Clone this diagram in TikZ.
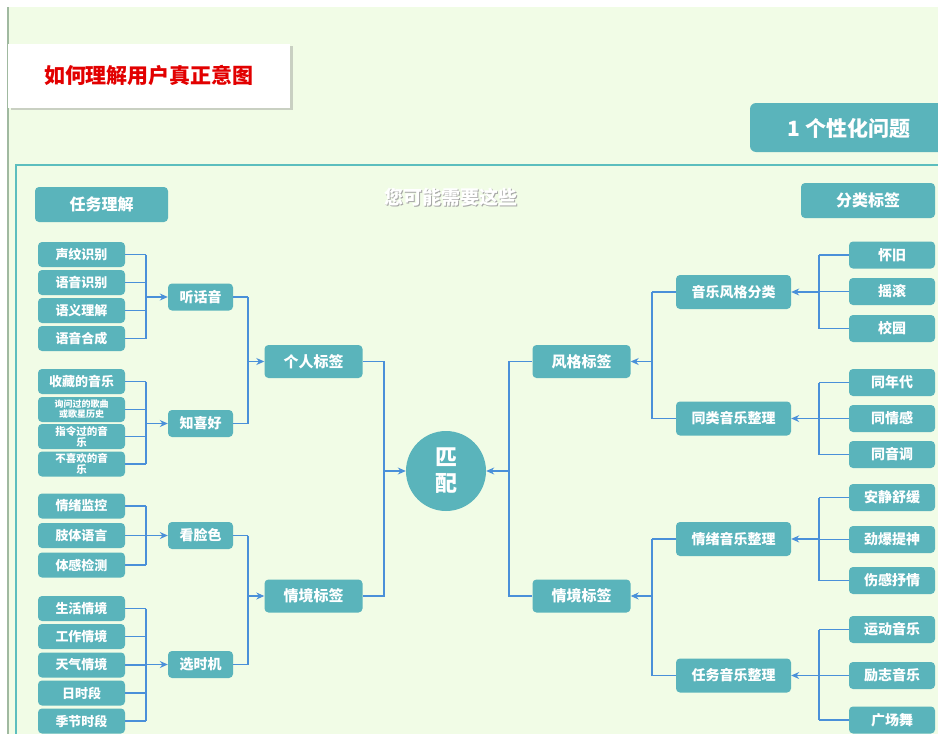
\documentclass[tikz,border=0pt]{standalone}
\usepackage{fontspec}
\setmainfont{Noto Sans CJK SC}
\usetikzlibrary{arrows.meta,shadows}
\definecolor{tealbox}{RGB}{90,180,187}
\definecolor{bggreen}{RGB}{241,252,230}
\definecolor{lineblue}{RGB}{74,144,217}
\definecolor{frameteal}{RGB}{92,190,190}
\definecolor{titlered}{RGB}{226,0,0}
\tikzset{
  box/.style={fill=tealbox, rounded corners=4pt, text=white, inner sep=0pt, align=center},
  leafL/.style={box, minimum width=87pt, minimum height=25pt, font=\bfseries\fontsize{13}{15}\selectfont},
  leafS/.style={box, minimum width=87pt, minimum height=25pt, font=\bfseries\fontsize{10.5}{11}\selectfont},
  leafT/.style={box, minimum width=87pt, minimum height=25pt, font=\bfseries\fontsize{9}{10}\selectfont},
  midL/.style={box, minimum width=65pt, minimum height=27pt, font=\bfseries\fontsize{14}{16}\selectfont},
  topL/.style={box, minimum width=98pt, minimum height=33pt, font=\bfseries\fontsize{15}{17}\selectfont},
  midR/.style={box, minimum width=115pt, minimum height=34pt, font=\bfseries\fontsize{14}{16}\selectfont},
  leafR/.style={box, minimum width=86pt, minimum height=27pt, font=\bfseries\fontsize{14}{16}\selectfont},
  headbox/.style={box, minimum width=134pt, minimum height=35pt, font=\bfseries\fontsize{16}{18}\selectfont},
  conn/.style={draw=lineblue, line width=1.1pt},
  arr/.style={conn, -{Stealth[length=8pt,width=7pt]}},
}
\begin{document}
\begin{tikzpicture}[x=1pt,y=-1pt]
\useasboundingbox (0,0) rectangle (938,734);
\clip (0,0) rectangle (938,734);
% background
\fill[white] (0,0) rectangle (938,734);
\fill[bggreen] (8,7) rectangle (938,734);
\draw[draw={rgb,255:red,160;green,185;blue,160}, line width=1.5pt] (8,7) -- (8,734);
% frame
\draw[frameteal, line width=1.3pt] (16,734) -- (16,165) -- (940,165);
% title
\node[fill=white, minimum width=282pt, minimum height=64pt, inner sep=0pt,
      drop shadow={shadow xshift=2.5pt, shadow yshift=-2.5pt, opacity=0.35},
      font=\bfseries\fontsize{21}{24}\selectfont, text=titlered] (title) at (149,75.5) {如何理解用户真正意图};
% top-right box
\fill[tealbox, rounded corners=6pt] (750,103) rectangle (960,152);
\node[text=white, font=\bfseries\fontsize{21}{23}\selectfont, inner sep=0pt] (q1) at (849,128) {1 个性化问题};
% headers
\node[headbox, minimum width=133pt] (h1) at (101.5,204.5) {任务理解};
\node[headbox] (h2) at (868,200.5) {分类标签};
\node[text=gray!70, font=\bfseries\fontsize{19}{21}\selectfont, inner sep=0pt] (subsh) at (452.2,198.2) {您可能需要这些};
\node[text=white, font=\bfseries\fontsize{19}{21}\selectfont, inner sep=0pt] (sub) at (451,197) {您可能需要这些};

% bus coordinates
\coordinate (b1) at (146,0);
\coordinate (b2) at (248,0);
\coordinate (b3) at (384,0);
\coordinate (b4) at (509,0);
\coordinate (b5) at (652,0);
\coordinate (b6) at (819,0);

% left leaves
\node[leafL] (a1) at (81.5,254.5) {声纹识别};
\node[leafL] (a2) at (81.5,282.5) {语音识别};
\node[leafL] (a3) at (81.5,310.5) {语义理解};
\node[leafL] (a4) at (81.5,338.5) {语音合成};
\node[leafL] (c1) at (81.5,381.5) {收藏的音乐};
\node[leafT] (c2) at (81.5,409.5) {询问过的歌曲\\或歌星历史};
\node[leafS] (c3) at (81.5,436.5) {指令过的音\\乐};
\node[leafS] (c4) at (81.5,464) {不喜欢的音\\乐};
\node[leafL] (d1) at (81.5,506) {情绪监控};
\node[leafL] (d2) at (81.5,535.5) {肢体语言};
\node[leafL] (d3) at (81.5,565) {体感检测};
\node[leafL] (e1) at (81.5,608.5) {生活情境};
\node[leafL] (e2) at (81.5,636.5) {工作情境};
\node[leafL] (e3) at (81.5,665) {天气情境};
\node[leafL] (e4) at (81.5,693) {日时段};
\node[leafL] (e5) at (81.5,721) {季节时段};

% left mid
\node[midL] (p1) at (200.5,297) {听话音};
\node[midL] (p2) at (200.5,423.5) {知喜好};
\node[midL] (p3) at (200.5,535.5) {看脸色};
\node[midL] (p4) at (200.5,664.5) {选时机};

% left top
\node[topL] (t1) at (313.5,361.5) {个人标签};
\node[topL] (t2) at (313.5,596) {情境标签};

% center
\node[circle, fill=tealbox, minimum size=80pt, inner sep=0pt, text=white, align=center,
      font=\bfseries\fontsize{22}{26}\selectfont] (m) at (446,471) {匹\\配};

% right top
\node[topL] (t3) at (581.5,361.5) {风格标签};
\node[topL] (t4) at (581.5,596) {情境标签};

% right mid
\node[midR] (r1) at (733.5,292) {音乐风格分类};
\node[midR] (r2) at (733.5,418.5) {同类音乐整理};
\node[midR] (r3) at (733.5,539) {情绪音乐整理};
\node[midR] (r4) at (733.5,675.5) {任务音乐整理};

% right leaves
\node[leafR] (s1) at (892,255) {怀旧};
\node[leafR] (s2) at (892,291.5) {摇滚};
\node[leafR] (s3) at (892,328.5) {校园};
\node[leafR] (u1) at (892,382.5) {同年代};
\node[leafR] (u2) at (892,418.5) {同情感};
\node[leafR] (u3) at (892,454.5) {同音调};
\node[leafR] (v1) at (892,497.5) {安静舒缓};
\node[leafR] (v2) at (892,539.5) {劲爆提神};
\node[leafR] (v3) at (892,580.5) {伤感抒情};
\node[leafR] (w1) at (892,629.5) {运动音乐};
\node[leafR] (w2) at (892,675.5) {励志音乐};
\node[leafR] (w3) at (892,720) {广场舞};

% left connectors: leaves -> mid
\foreach \n in {a1,a2,a3,a4,c1,c2,c3,c4,d1,d2,d3,e1,e2,e3,e4,e5}
  \draw[conn] (\n.east) -- (\n.east -| b1);
\draw[conn] (a1.east -| b1) -- (a4.east -| b1);
\draw[conn] (c1.east -| b1) -- (c4.east -| b1);
\draw[conn] (d1.east -| b1) -- (d3.east -| b1);
\draw[conn] (e1.east -| b1) -- (e5.east -| b1);
\foreach \n in {p1,p2,p3,p4}
  \draw[arr] (\n.west -| b1) -- (\n.west);
% mid -> top
\foreach \n in {p1,p2,p3,p4}
  \draw[conn] (\n.east) -- (\n.east -| b2);
\draw[conn] (p1.east -| b2) -- (p2.east -| b2);
\draw[conn] (p3.east -| b2) -- (p4.east -| b2);
\draw[arr] (t1.west -| b2) -- (t1.west);
\draw[arr] (t2.west -| b2) -- (t2.west);
% top -> center
\draw[conn] (t1.east) -- (t1.east -| b3) -- (t2.east -| b3) -- (t2.east);
\draw[arr] (m.west -| b3) -- (m.west);

% right connectors
\draw[conn] (t3.west) -- (t3.west -| b4) -- (t4.west -| b4) -- (t4.west);
\draw[arr] (m.east -| b4) -- (m.east);
\foreach \n in {r1,r2,r3,r4}
  \draw[conn] (\n.west) -- (\n.west -| b5);
\draw[conn] (r1.west -| b5) -- (r2.west -| b5);
\draw[conn] (r3.west -| b5) -- (r4.west -| b5);
\draw[arr] (t3.east -| b5) -- (t3.east);
\draw[arr] (t4.east -| b5) -- (t4.east);
\foreach \n in {s1,s2,s3,u1,u2,u3,v1,v2,v3,w1,w2,w3}
  \draw[conn] (\n.west) -- (\n.west -| b6);
\draw[conn] (s1.west -| b6) -- (s3.west -| b6);
\draw[conn] (u1.west -| b6) -- (u3.west -| b6);
\draw[conn] (v1.west -| b6) -- (v3.west -| b6);
\draw[conn] (w1.west -| b6) -- (w3.west -| b6);
\foreach \n in {r1,r2,r3,r4}
  \draw[arr] (\n.east -| b6) -- (\n.east);
\end{tikzpicture}
\end{document}
